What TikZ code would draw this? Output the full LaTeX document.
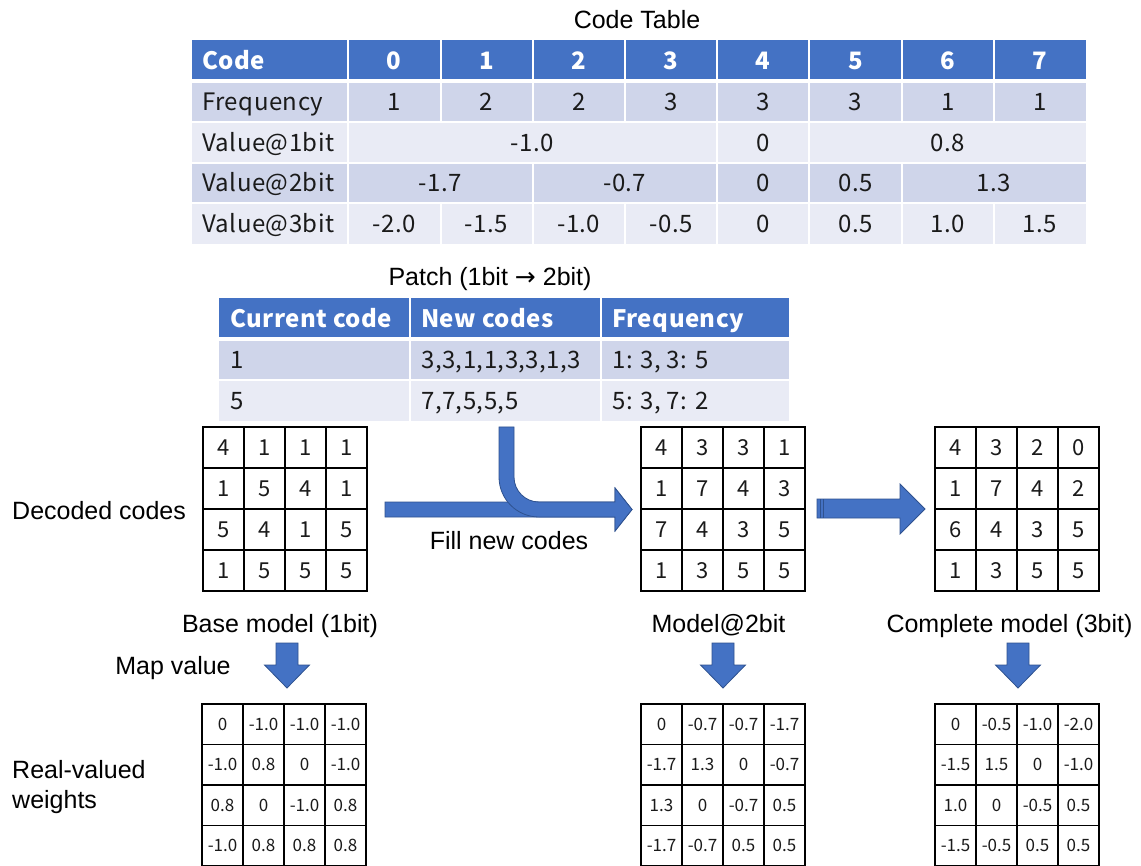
\documentclass[tikz,border=0pt]{standalone}
\usepackage{fontspec}
\setmainfont{Liberation Sans}
\newfontfamily\jp[LetterSpace=2]{Noto Sans CJK JP}
\newfontfamily\jpplain{Noto Sans CJK JP}
\newfontfamily\arrowfont{DejaVu Sans}
\definecolor{hdr}{HTML}{4472C4}
\definecolor{rowA}{HTML}{CFD5EA}
\definecolor{rowB}{HTML}{E9EBF5}
\definecolor{arrowline}{HTML}{2F528F}
\definecolor{txt}{HTML}{1A1A1A}
\tikzset{
  lbl/.style={font=\fontsize{25}{30}\selectfont, inner sep=0pt, text height=18pt, text depth=0pt},
  hcell/.style={font=\jp\bfseries\fontsize{24}{28}\selectfont, text=white, inner sep=0pt, text height=17.4pt, text depth=0pt},
  bcell/.style={font=\jp\fontsize{24}{28}\selectfont, text=txt, inner sep=0pt, text height=17.4pt, text depth=0pt},
  gcell/.style={font=\jpplain\fontsize{22}{26}\selectfont, text=txt, inner sep=0pt, text height=15.9pt, text depth=0pt},
  wcell/.style={font=\jpplain\fontsize{17}{20}\selectfont, text=txt, inner sep=0pt, text height=12.3pt, text depth=0pt},
  sepline/.style={white, line width=2pt},
  hsepline/.style={white, line width=4pt},
  gridline/.style={black, line width=1.5pt},
  blockarrow/.style={fill=hdr, draw=arrowline, line width=0.8pt, line join=miter},
}
\begin{document}
\begin{tikzpicture}[x=1pt,y=-1pt]
\useasboundingbox (0,0) rectangle (1141,866);
\fill[white] (0,0) rectangle (1141,866);

% ---------------- Code table ----------------
\node[lbl] (ctitle) at (637,20) {Code Table};
\fill[hdr] (192,40) rectangle (1086,81);
\fill[rowA] (192,81) rectangle (1086,122);
\fill[rowB] (192,122) rectangle (1086,163);
\fill[rowA] (192,163) rectangle (1086,203.5);
\fill[rowB] (192,203.5) rectangle (1086,244);
\draw[hsepline] (192,81) -- (1086,81);
\draw[sepline] (192,122) -- (1086,122);
\draw[sepline] (192,163) -- (1086,163);
\draw[sepline] (192,203.5) -- (1086,203.5);
\foreach \xx in {348,440.5,532.5,625,717,809,902,994} {
  \draw[sepline] (\xx,40) -- (\xx,122);
  \draw[sepline] (\xx,203.5) -- (\xx,244);
}
\foreach \xx in {348,717,809} { \draw[sepline] (\xx,122) -- (\xx,163); }
\foreach \xx in {348,532.5,717,809,902} { \draw[sepline] (\xx,163) -- (\xx,203.5); }

\node[hcell, anchor=west] (h-code) at (202,60.5) {Code};
\foreach \v [count=\i from 0] in {0,1,2,3,4,5,6,7} {
  \node[hcell] (h-\i) at ({394.25+92.25*\i},60.5) {\v};
}
\node[bcell, anchor=west] (r-freq) at (202,101.5) {Frequency};
\foreach \v [count=\i from 0] in {1,2,2,3,3,3,1,1} {
  \node[bcell] (f-\i) at ({394.25+92.25*\i},101.5) {\v};
}
\node[bcell, anchor=west] (r-b1) at (202,142.5) {Value@1bit};
\node[bcell] (b1-a) at (532.5,142.5) {-1.0};
\node[bcell] (b1-b) at (763,142.5) {0};
\node[bcell] (b1-c) at (947.5,142.5) {0.8};
\node[bcell, anchor=west] (r-b2) at (202,183.25) {Value@2bit};
\node[bcell] (b2-a) at (440.25,183.25) {-1.7};
\node[bcell] (b2-b) at (624.75,183.25) {-0.7};
\node[bcell] (b2-c) at (763,183.25) {0};
\node[bcell] (b2-d) at (855.5,183.25) {0.5};
\node[bcell] (b2-e) at (994,183.25) {1.3};
\node[bcell, anchor=west] (r-b3) at (202,223.75) {Value@3bit};
\foreach \v [count=\i from 0] in {-2.0,-1.5,-1.0,-0.5,0,0.5,1.0,1.5} {
  \node[bcell] (b3-\i) at ({394.25+92.25*\i},223.75) {\v};
}

% ---------------- Patch table ----------------
\node[lbl] (ptitle) at (490,277) {Patch (1bit {\arrowfont →} 2bit)};
\fill[hdr] (219,298) rectangle (789,339);
\fill[rowA] (219,339) rectangle (789,380);
\fill[rowB] (219,380) rectangle (789,421);
\draw[hsepline] (219,339) -- (789,339);
\draw[sepline] (219,380) -- (789,380);
\foreach \xx in {410,601} { \draw[sepline] (\xx,298) -- (\xx,421); }
\node[hcell, anchor=west] (p-h1) at (230,318.5) {Current code};
\node[hcell, anchor=west] (p-h2) at (421,318.5) {New codes};
\node[hcell, anchor=west] (p-h3) at (612,318.5) {Frequency};
\node[bcell, anchor=west] (p-11) at (230,360) {1};
\node[bcell, anchor=west] (p-12) at (421,360) {3,3,1,1,3,3,1,3};
\node[bcell, anchor=west] (p-13) at (612,360) {1: 3, 3: 5};
\node[bcell, anchor=west] (p-21) at (230,401) {5};
\node[bcell, anchor=west] (p-22) at (421,401) {7,7,5,5,5};
\node[bcell, anchor=west] (p-23) at (612,401) {5: 3, 7: 2};

% ---------------- Decoded code grids ----------------
\foreach \gx/\gn/\vals in {203/dA/{4,1,1,1,1,5,4,1,5,4,1,5,1,5,5,5},
                          641/dB/{4,3,3,1,1,7,4,3,7,4,3,5,1,3,5,5},
                          935/dC/{4,3,2,0,1,7,4,2,6,4,3,5,1,3,5,5}} {
  \foreach \k in {0,...,4} {
    \draw[gridline] ({\gx+41*\k},427) -- ({\gx+41*\k},591);
    \draw[gridline] (\gx-0.75,{427+41*\k}) -- ({\gx+164.75},{427+41*\k});
  }
  \foreach \v [count=\i from 0] in \vals {
    \pgfmathtruncatemacro\rr{\i/4}
    \pgfmathtruncatemacro\cc{mod(\i,4)}
    \node[gcell] (\gn-\rr-\cc) at ({\gx+41*\cc+20.5},{427+41*\rr+20.5}) {\v};
  }
}

% ---------------- Weight grids ----------------
\foreach \gx/\gn/\vals in {202/wA/{0,-1.0,-1.0,-1.0,-1.0,0.8,0,-1.0,0.8,0,-1.0,0.8,-1.0,0.8,0.8,0.8},
                          641/wB/{0,-0.7,-0.7,-1.7,-1.7,1.3,0,-0.7,1.3,0,-0.7,0.5,-1.7,-0.7,0.5,0.5},
                          935/wC/{0,-0.5,-1.0,-2.0,-1.5,1.5,0,-1.0,1.0,0,-0.5,0.5,-1.5,-0.5,0.5,0.5}} {
  \foreach \k in {0,...,4} {
    \draw[gridline] ({\gx+41*\k},704) -- ({\gx+41*\k},870);
    \draw[gridline] (\gx-0.75,{704+40.5*\k}) -- ({\gx+164.75},{704+40.5*\k});
  }
  \foreach \v [count=\i from 0] in \vals {
    \pgfmathtruncatemacro\rr{\i/4}
    \pgfmathtruncatemacro\cc{mod(\i,4)}
    \node[wcell] (\gn-\rr-\cc) at ({\gx+41*\cc+20.5},{704+40.5*\rr+20.25}) {\v};
  }
}

% ---------------- Labels ----------------
\node[lbl, anchor=west] (ldec) at (12,510) {Decoded codes};
\node[lbl] (lfill) at (509,540) {Fill new codes};
\node[lbl] (lbase) at (280,623) {Base model (1bit)};
\node[lbl] (lm2) at (718.5,623) {Model@2bit};
\node[lbl] (lm3) at (1009.5,623) {Complete model (3bit)};
\node[lbl] (lmap) at (173,665) {Map value};
\node[lbl, anchor=base west, align=left, text height=, text depth=] (lreal) at (12,808) {Real-valued\\weights};

% ---------------- Block arrows ----------------
% straight arrow into model@2bit
\draw[blockarrow] (385,502) -- (615,502) -- (615,488) -- (632,509.5) -- (615,531) -- (615,517) -- (385,517) -- cycle;
% bent arrow from patch table
\draw[blockarrow] (499,427) -- (499,477) .. controls (499,499.1) and (516.9,517) .. (539,517)
  -- (615,517) -- (615,531) -- (632,509.5) -- (615,488) -- (615,502) -- (539,502)
  .. controls (525.2,502) and (514,490.8) .. (514,477) -- (514,427) -- cycle;
% arrow model@2bit -> complete model
\draw[blockarrow] (817,499) -- (900,499) -- (900,484) -- (925,509) -- (900,534) -- (900,518) -- (817,518) -- cycle;
\draw[arrowline, line width=0.8pt] (820.5,499) -- (820.5,518);
\draw[arrowline, line width=0.8pt] (823.5,499) -- (823.5,518);
% down arrows
\foreach \cx in {287,723,1018} {
  \draw[blockarrow] ({\cx-11},643) -- ({\cx+11},643) -- ({\cx+11},665) -- ({\cx+22.5},665) -- (\cx,688)
    -- ({\cx-22.5},665) -- ({\cx-11},665) -- cycle;
}
\end{tikzpicture}
\end{document}
